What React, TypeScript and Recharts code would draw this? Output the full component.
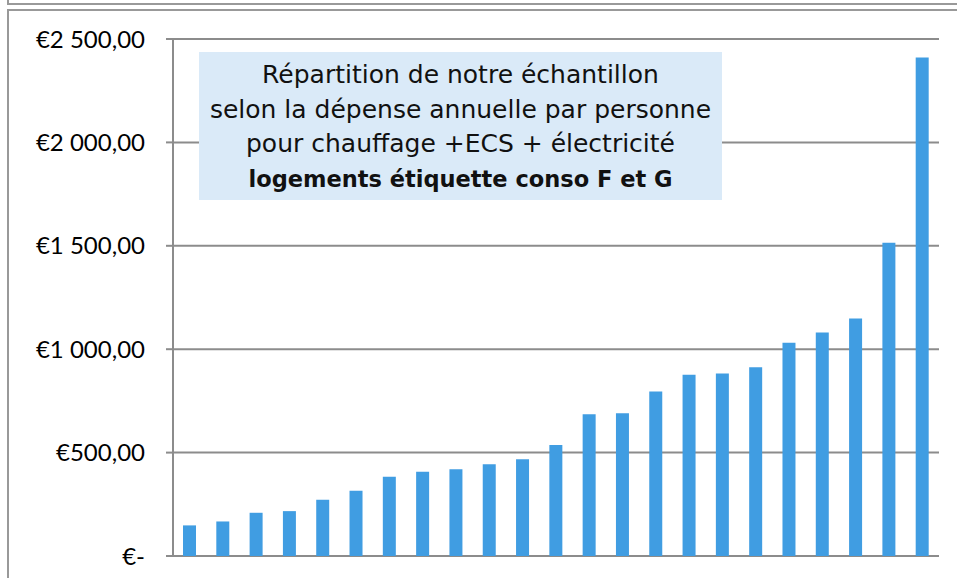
import React from 'react';
import { BarChart, Bar, XAxis, YAxis, CartesianGrid } from 'recharts';

// one bar per household, sorted by spend
const categories = ['1', '2', '3', '4', '5', '6', '7', '8', '9', '10', '11', '12', '13', '14', '15', '16', '17', '18', '19', '20', '21', '22', '23'];
const depenses = [148, 167, 209, 217, 272, 315, 383, 407, 420, 444, 468, 537, 685, 690, 796, 877, 883, 913, 1031, 1081, 1148, 1515, 2410];

const yTicks = [0, 500, 1000, 1500, 2000, 2500];
const yTickLabels = ['€-', '€500,00', '€1 000,00', '€1 500,00', '€2 000,00', '€2 500,00'];

const titleLines = [
  'Répartition de notre échantillon',
  'selon la dépense annuelle par personne',
  'pour chauffage +ECS + électricité',
];
const titleBold = 'logements étiquette conso F et G';

const data = categories.map((cat, i) => ({ cat, depense: depenses[i] }));

const GRAY = '#8c8c8c';

export default function App() {
  return (
    <div style={{ position: 'absolute', left: 0, top: 0, width: 957, height: 578, background: '#fff', overflow: 'hidden' }}>
      {/* frame lines */}
      <div style={{ position: 'absolute', left: 7, top: 0, width: 2, height: 5, background: '#999' }} />
      <div style={{ position: 'absolute', left: 7, top: 3, width: 950, height: 2, background: '#999' }} />
      <div style={{ position: 'absolute', left: 7, top: 9, width: 950, height: 2, background: '#999' }} />
      <div style={{ position: 'absolute', left: 7, top: 9, width: 2, height: 569, background: '#999' }} />

      <div style={{ position: 'absolute', left: 0, top: 0 }}>
        <BarChart width={957} height={578} data={data} margin={{ top: 39, right: 18, bottom: 22, left: 0 }}>
          <CartesianGrid vertical={false} stroke={GRAY} strokeWidth={2} />
          <XAxis dataKey="cat" hide />
          <YAxis
            type="number"
            domain={[0, 2500]}
            ticks={yTicks}
            interval={0}
            width={173}
            tickSize={7}
            tickMargin={21}
            axisLine={{ stroke: GRAY, strokeWidth: 2 }}
            tickLine={{ stroke: GRAY, strokeWidth: 2 }}
            tick={{ fill: '#000', fontSize: 24, fontFamily: 'Lato' }}
            tickFormatter={(v: number) => yTickLabels[yTicks.indexOf(v)]}
          />
          <Bar dataKey="depense" fill="#409de2" barSize={13} isAnimationActive={false} />
        </BarChart>
      </div>

      {/* title box */}
      <div
        style={{
          position: 'absolute',
          left: 199,
          top: 52,
          width: 523,
          height: 148,
          boxSizing: 'border-box',
          paddingTop: 6,
          background: '#daeaf8',
          textAlign: 'center',
          fontFamily: 'DejaVu Sans',
          fontSize: 25,
          lineHeight: '34.5px',
          color: '#111',
          whiteSpace: 'nowrap',
        }}
      >
        {titleLines.map((l) => (
          <div key={l}>{l}</div>
        ))}
        <div style={{ fontWeight: 'bold', fontSize: 22.5 }}>{titleBold}</div>
      </div>
    </div>
  );
}
